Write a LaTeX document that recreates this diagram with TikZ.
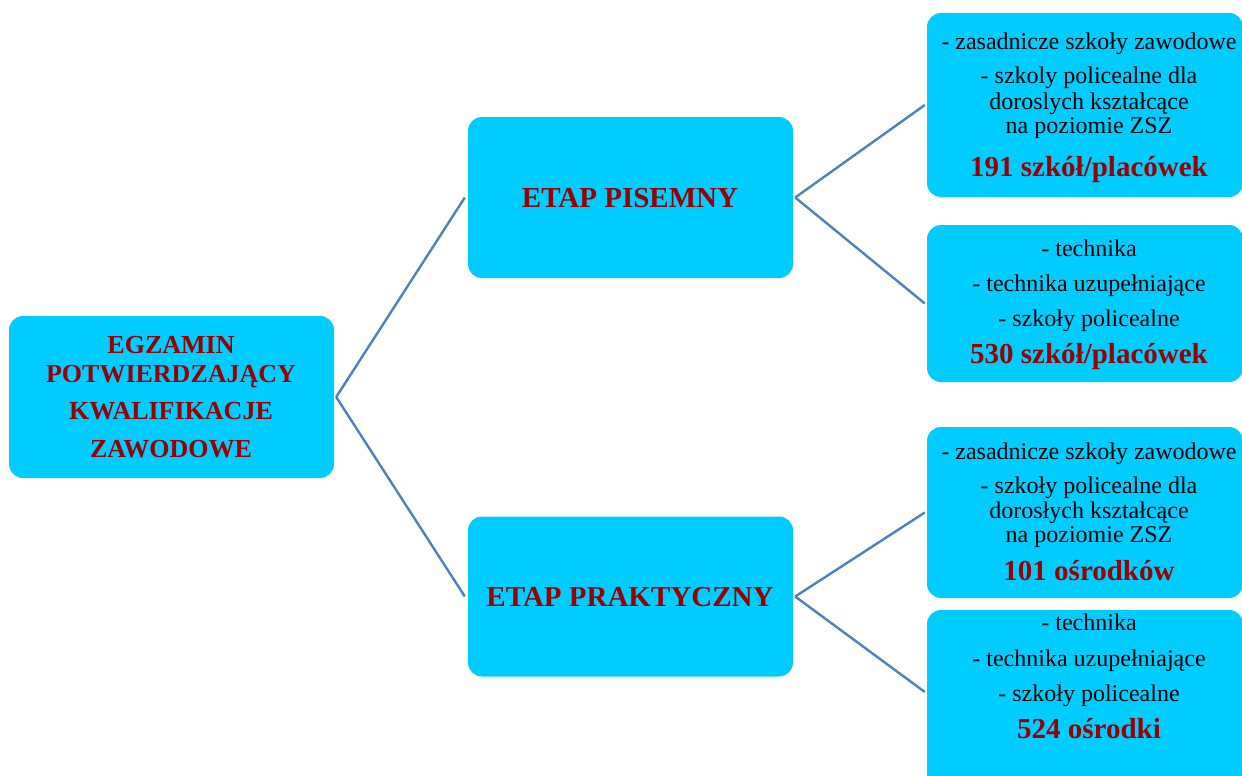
\documentclass[tikz,border=0pt]{standalone}
\usepackage{fontspec}
\setmainfont{Liberation Serif}
\definecolor{boxcyan}{HTML}{00CCFF}
\definecolor{darkred}{HTML}{990000}
\definecolor{linkblue}{HTML}{4F81BD}
\tikzset{
  box/.style={draw=none, fill=boxcyan, rounded corners=14pt, inner sep=0pt, minimum width=#1},
  txt/.style={anchor=base, inner sep=0pt, font=\fontsize{24}{28}\selectfont},
  num/.style={anchor=base, inner sep=0pt, text=darkred, font=\fontsize{29}{34}\selectfont\bfseries},
  roottxt/.style={anchor=base, inner sep=0pt, text=darkred, font=\fontsize{26}{30}\selectfont\bfseries},
  link/.style={draw=linkblue, line width=2.4pt}
}
\begin{document}
\begin{tikzpicture}[x=1pt,y=-1pt]
\useasboundingbox (0,0) rectangle (1242,776);
\clip (0,0) rectangle (1242,776);
% boxes
\node[box=325pt, minimum height=162pt] (root) at (171.5,397) {};
\node[box=325pt, minimum height=161pt] (pis) at (630.5,197.5) {};
\node[box=325pt, minimum height=160pt] (pra) at (630.5,596.5) {};
\node[box=316pt, minimum height=184pt] (r1) at (1085,105) {};
\node[box=316pt, minimum height=157pt] (r2) at (1085,303.5) {};
\node[box=316pt, minimum height=171pt] (r3) at (1085,512.5) {};
\node[box=316pt, minimum height=190pt] (r4) at (1085,705) {};
% connectors
\draw[link] ([xshift=2pt]root.east) -- ([xshift=-3pt]pis.west);
\draw[link] ([xshift=2pt]root.east) -- ([xshift=-3pt]pra.west);
\draw[link] ([xshift=2pt]pis.east) -- ([xshift=-2pt]r1.west);
\draw[link] ([xshift=2pt]pis.east) -- ([xshift=-2pt]r2.west);
\draw[link] ([xshift=2pt]pra.east) -- ([xshift=-2pt]r3.west);
\draw[link] ([xshift=2pt]pra.east) -- ([xshift=-2pt,yshift=13pt]r4.west);
% root text
\node[roottxt] (t01) at (171,353) {EGZAMIN};
\node[roottxt] (t02) at (171,382) {POTWIERDZAJĄCY};
\node[roottxt] (t03) at (171,419) {KWALIFIKACJE};
\node[roottxt] (t04) at (171,457) {ZAWODOWE};
% stage text
\node[num] (t05) at (630,207) {ETAP PISEMNY};
\node[num] (t06) at (630,606) {ETAP PRAKTYCZNY};
% r1
\node[txt] (t11) at (1089,49) {- zasadnicze szkoły zawodowe};
\node[txt] (t12) at (1089,84) {- szkoly policealne dla};
\node[txt] (t13) at (1089,109) {doroslych kształcące};
\node[txt] (t14) at (1089,133) {na poziomie ZSZ};
\node[num] (t15) at (1089,176) {191 szkół/placówek};
% r2
\node[txt] (t21) at (1089,256) {- technika};
\node[txt] (t22) at (1089,291) {- technika uzupełniające};
\node[txt] (t23) at (1089,326) {- szkoły policealne};
\node[num] (t24) at (1089,363) {530 szkół/placówek};
% r3
\node[txt] (t31) at (1089,459) {- zasadnicze szkoły zawodowe};
\node[txt] (t32) at (1089,493) {- szkoły policealne dla};
\node[txt] (t33) at (1089,518) {dorosłych kształcące};
\node[txt] (t34) at (1089,542) {na poziomie ZSZ};
\node[num] (t35) at (1089,580) {101 ośrodków};
% r4
\node[txt] (t41) at (1089,630) {- technika};
\node[txt] (t42) at (1089,666) {- technika uzupełniające};
\node[txt] (t43) at (1089,701) {- szkoły policealne};
\node[num] (t44) at (1089,738) {524 ośrodki};
\end{tikzpicture}
\end{document}
